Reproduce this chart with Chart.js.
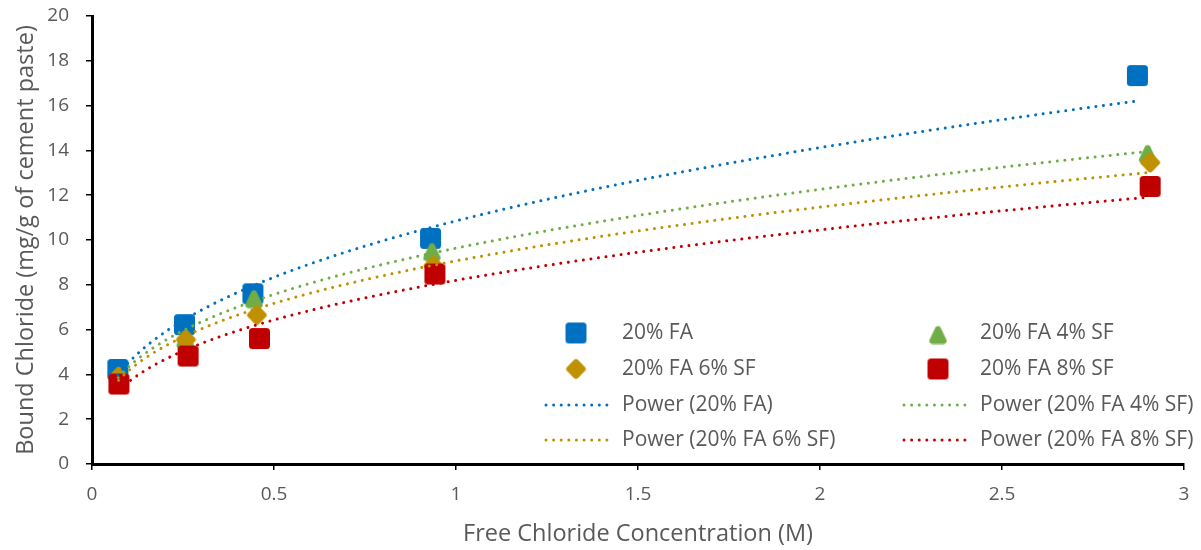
<!DOCTYPE html>
<html><head><meta charset="utf-8">
<script src="https://cdn.jsdelivr.net/npm/chart.js@4.4.0/dist/chart.umd.min.js"></script>
<style>html,body{margin:0;padding:0;background:#fff}canvas{display:block}</style>
</head><body>
<canvas id="c" width="1201" height="550"></canvas>
<script>
// ---- data ----
const seriesNames = ['20% FA', '20% FA 4% SF', '20% FA 6% SF', '20% FA 8% SF'];
const xFA  = [0.071, 0.254, 0.442, 0.930, 2.872];
const yFA  = [4.22, 6.22, 7.60, 10.07, 17.34];
const xFA4 = [0.072, 0.256, 0.445, 0.934, 2.900];
const yFA4 = [3.95, 5.65, 7.45, 9.55, 13.93];
const xFA6 = [0.073, 0.258, 0.453, 0.938, 2.907];
const yFA6 = [3.90, 5.55, 6.65, 8.85, 13.46];
const xFA8 = [0.074, 0.264, 0.460, 0.942, 2.907];
const yFA8 = [3.57, 4.82, 5.60, 8.48, 12.39];
const xTickValues = [0, 0.5, 1, 1.5, 2, 2.5, 3];
const xTickLabels = ['0', '0.5', '1', '1.5', '2', '2.5', '3'];
const yTickValues = [0, 2, 4, 6, 8, 10, 12, 14, 16, 18, 20];
const yTickLabels = ['0', '2', '4', '6', '8', '10', '12', '14', '16', '18', '20'];
const xTitle = 'Free Chloride Concentration (M)';
const yTitle = 'Bound Chloride (mg/g of cement paste)';

const colors = ['#0070C0', '#70AD47', '#BF9000', '#C00000'];
const TEXT = '#595959';
const FONT = '"Open Sans", Lato, sans-serif';

// ---- marker images ----
function roundedPoly(ctx, pts, r) {
  ctx.beginPath();
  const n = pts.length;
  for (let i = 0; i < n; i++) {
    const p0 = pts[(i - 1 + n) % n], p1 = pts[i], p2 = pts[(i + 1) % n];
    const m0 = [(p0[0] + p1[0]) / 2, (p0[1] + p1[1]) / 2];
    if (i === 0) ctx.moveTo(m0[0], m0[1]);
    ctx.arcTo(p1[0], p1[1], p2[0], p2[1], r);
  }
  ctx.closePath();
}
function makeMarker(shape, color) {
  const c = document.createElement('canvas');
  const s = 23; c.width = s; c.height = s;
  const g = c.getContext('2d');
  g.fillStyle = color;
  let pts;
  if (shape === 'square') pts = [[1, 1], [22, 1], [22, 22], [1, 22]];
  else if (shape === 'diamond') pts = [[11.5, 0.5], [22.5, 11.5], [11.5, 22.5], [0.5, 11.5]];
  else pts = [[11.5, 0.5], [22, 22.5], [1, 22.5]];
  roundedPoly(g, pts, shape === 'square' ? 3.5 : 3);
  g.fill();
  return c;
}
const markers = [
  makeMarker('square', colors[0]),
  makeMarker('triangle', colors[1]),
  makeMarker('diamond', colors[2]),
  makeMarker('square', colors[3])
];

// ---- power trendline (least squares in log-log space, as the spreadsheet does) ----
function powerFit(xs, ys) {
  const lx = xs.map(Math.log), ly = ys.map(Math.log);
  const n = xs.length;
  const mx = lx.reduce((a, b) => a + b, 0) / n, my = ly.reduce((a, b) => a + b, 0) / n;
  let sxy = 0, sxx = 0;
  for (let i = 0; i < n; i++) { sxy += (lx[i] - mx) * (ly[i] - my); sxx += (lx[i] - mx) ** 2; }
  const b = sxy / sxx, a = Math.exp(my - b * mx);
  return { a, b };
}
function trendPoints(xs, ys) {
  const { a, b } = powerFit(xs, ys);
  const x0 = Math.min(...xs), x1 = Math.max(...xs);
  const pts = [];
  const N = 200;
  for (let i = 0; i <= N; i++) {
    const x = x0 + (x1 - x0) * i / N;
    pts.push({ x, y: a * Math.pow(x, b) });
  }
  return pts;
}

const xs = [xFA, xFA4, xFA6, xFA8];
const ys = [yFA, yFA4, yFA6, yFA8];
const datasets = [];
const pointOrder = [4, 3, 2, 1];
for (let i = 0; i < 4; i++) {
  datasets.push({
    label: seriesNames[i],
    data: xs[i].map((x, j) => ({ x, y: ys[i][j] })),
    pointStyle: markers[i],
    pointRadius: 11,
    pointHoverRadius: 11,
    showLine: false,
    order: pointOrder[i]
  });
}
for (let i = 0; i < 4; i++) {
  datasets.push({
    label: 'Power (' + seriesNames[i] + ')',
    data: trendPoints(xs[i], ys[i]),
    showLine: true,
    borderColor: colors[i],
    borderWidth: 3,
    borderDash: [0.01, 7.6],
    borderCapStyle: 'round',
    pointRadius: 0,
    pointHoverRadius: 0,
    tension: 0,
    fill: false,
    order: 0
  });
}

// ---- legend drawn inside the plot ----
const legendPlugin = {
  id: 'insideLegend',
  afterDraw(chart) {
    const ctx = chart.ctx;
    const cols = [{ mx: 576, lx0: 546, lx1: 607, tx: 622 }, { mx: 938, lx0: 904, lx1: 965, tx: 980 }];
    const rows = [333, 369, 405, 440];
    const entries = [
      [0, 0, 0], [1, 0, 1],
      [0, 1, 2], [1, 1, 3],
      [0, 2, 4], [1, 2, 5],
      [0, 3, 6], [1, 3, 7]
    ];
    ctx.save();
    ctx.font = '21px ' + FONT;
    ctx.fillStyle = TEXT;
    ctx.textBaseline = 'middle';
    for (const [c, r, di] of entries) {
      const col = cols[c], y = rows[r];
      const ds = chart.data.datasets[di];
      if (di < 4) {
        const m = markers[di];
        ctx.drawImage(m, col.mx - m.width / 2, y - m.height / 2);
      } else {
        ctx.save();
        ctx.strokeStyle = ds.borderColor;
        ctx.lineWidth = 3;
        ctx.lineCap = 'round';
        ctx.setLineDash([0.01, 7.6]);
        ctx.beginPath();
        ctx.moveTo(col.lx0, y);
        ctx.lineTo(col.lx1, y);
        ctx.stroke();
        ctx.restore();
      }
      ctx.fillStyle = TEXT;
      ctx.fillText(ds.label, col.tx, y);
    }
    ctx.restore();
  }
};

new Chart(document.getElementById('c'), {
  type: 'scatter',
  data: { datasets },
  plugins: [legendPlugin],
  options: {
    responsive: false,
    animation: false,
    events: [],
    layout: { padding: { top: 16, right: 17, left: 0, bottom: 0 } },
    plugins: { legend: { display: false }, tooltip: { enabled: false } },
    scales: {
      x: {
        type: 'linear', min: 0, max: 3,
        afterFit: s => { s.height = 86; s.paddingLeft = 0; s.paddingRight = 0; },
        afterBuildTicks: s => { s.ticks = xTickValues.map(v => ({ value: v })); },
        ticks: {
          callback: (v) => xTickLabels[xTickValues.indexOf(v)],
          color: TEXT, font: { family: FONT, size: 19 }, padding: 13, maxRotation: 0, autoSkip: false
        },
        grid: { drawOnChartArea: false, drawTicks: true, tickLength: 6, color: '#000', lineWidth: 1.5 },
        border: { display: true, color: '#000', width: 3 },
        title: { display: true, text: xTitle, color: TEXT, font: { family: FONT, size: 23.5 }, padding: { top: 0, bottom: 2 } }
      },
      y: {
        type: 'linear', min: 0, max: 20,
        afterFit: s => { s.width = 92; s.paddingTop = 0; s.paddingBottom = 0; },
        afterBuildTicks: s => { s.ticks = yTickValues.map(v => ({ value: v })); },
        ticks: {
          callback: (v) => yTickLabels[yTickValues.indexOf(v)],
          color: TEXT, font: { family: FONT, size: 19 }, padding: 17, autoSkip: false
        },
        grid: { drawOnChartArea: false, drawTicks: true, tickLength: 6, color: '#000', lineWidth: 1.5 },
        border: { display: true, color: '#000', width: 3 },
        title: { display: true, text: yTitle, color: TEXT, font: { family: FONT, size: 23.5 }, padding: { top: 12, bottom: 0 } }
      }
    }
  }
});
</script>
</body></html>
